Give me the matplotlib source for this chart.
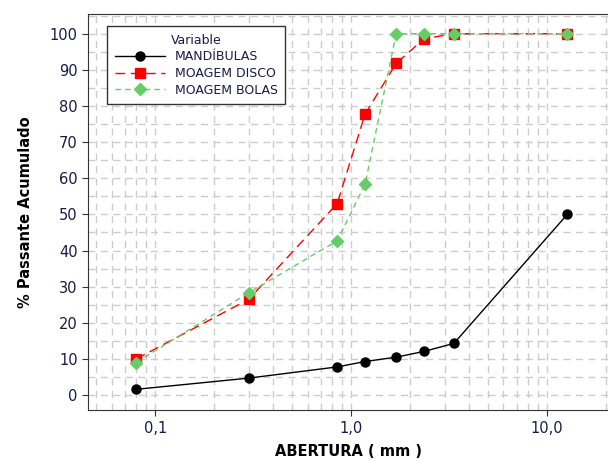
import matplotlib
matplotlib.use("Agg")
import matplotlib.pyplot as plt
from matplotlib.ticker import FixedLocator, MultipleLocator, FuncFormatter, NullFormatter

# Aberturas das peneiras (mm) e % passante acumulado
abertura = [0.08, 0.3, 0.85, 1.18, 1.7, 2.36, 3.35, 12.7]
mandibulas = [1.6, 4.7, 7.8, 9.3, 10.5, 12.1, 14.3, 50.0]
moagem_disco = [10.0, 26.5, 53.0, 77.8, 91.8, 98.6, 100.0, 100.0]
moagem_bolas = [9.0, 28.3, 42.7, 58.4, 100.0, 100.0, 100.0, 100.0]

x_ticks = [0.1, 1.0, 10.0]
x_labels = ["0,1", "1,0", "10,0"]

txt = "#1a1a4a"

fig = plt.figure(figsize=(6.08, 4.61), dpi=100)
ax = fig.add_axes([0.145, 0.11, 0.855, 0.86])

ax.plot(abertura, mandibulas, color="black", lw=1, marker="o", ms=6.5,
        label="MANDÍBULAS", zorder=3)
ax.plot(abertura, moagem_disco, color="red", lw=1, ls=(0, (7, 4)), marker="s",
        ms=6.5, label="MOAGEM DISCO", zorder=3)
ax.plot(abertura, moagem_bolas, color="#66cc66", lw=1, ls=(0, (4, 3)), marker="D",
        ms=6, label="MOAGEM BOLAS", zorder=3)

ax.set_xscale("log")
ax.set_xlim(0.0455, 20.5)
ax.set_ylim(-4.2, 105.5)

ax.xaxis.set_major_locator(FixedLocator(x_ticks))
ax.xaxis.set_major_formatter(FuncFormatter(lambda v, p: x_labels[x_ticks.index(v)] if v in x_ticks else ""))
minors = [m * 10 ** e for e in (-2, -1, 0, 1) for m in range(2, 10)]
ax.xaxis.set_minor_locator(FixedLocator(minors))
ax.xaxis.set_minor_formatter(NullFormatter())
ax.yaxis.set_major_locator(MultipleLocator(10))
ax.yaxis.set_minor_locator(MultipleLocator(5))

ax.grid(True, which="both", color="#cccccc", ls=(0, (5, 4)), lw=1, zorder=0)
ax.tick_params(which="major", direction="out", length=4, colors="#333333",
               labelcolor=txt, labelsize=10.5)
ax.tick_params(which="minor", length=0)
for s in ax.spines.values():
    s.set_color("#333333")
ax.spines["right"].set_visible(False)

ax.set_xlabel("ABERTURA ( mm )", fontsize=10.5, fontweight="bold", color="black",
              labelpad=6)
ax.set_ylabel("% Passante Acumulado", fontsize=10.5, fontweight="bold", color="black",
              labelpad=12)

leg = ax.legend(title="Variable", loc="upper left", bbox_to_anchor=(0.025, 0.985),
                fancybox=False, edgecolor="#333333", framealpha=1, fontsize=9,
                title_fontsize=9, handlelength=4, borderpad=0.6, labelspacing=0.3)
leg.get_frame().set_linewidth(1)
for t in leg.get_texts():
    t.set_color(txt)
leg.get_title().set_color(txt)

fig.savefig("out.png", dpi=100)
